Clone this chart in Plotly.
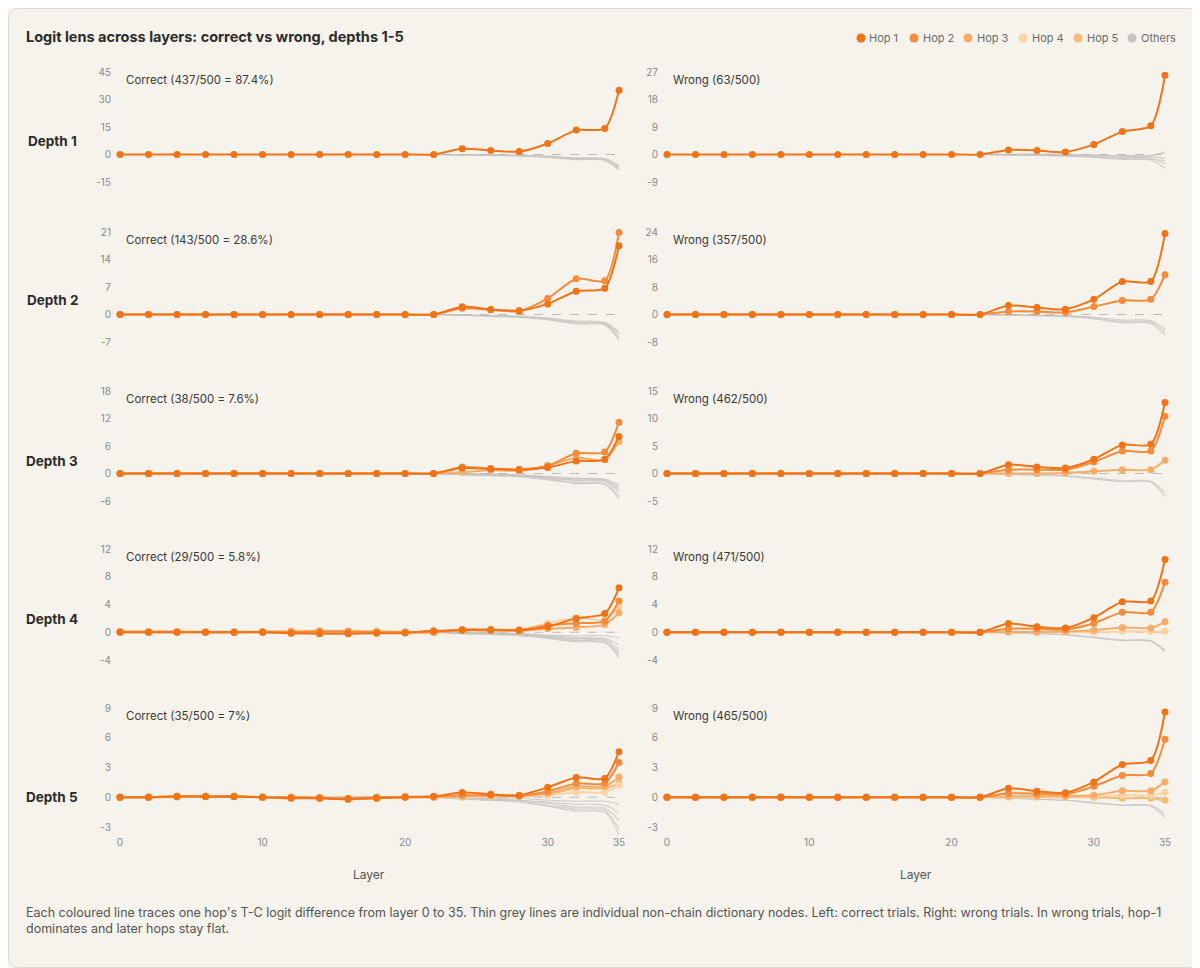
import plotly.graph_objects as go

# The page places the figure 8px from the top-left corner, so the figure is
# sized and positioned to fill the remaining 1192x960 area.
OFF = 8
W, H = 1200 - OFF, 968 - OFF

LAYERS = [0, 2, 4, 6, 8, 10, 12, 14, 16, 18, 20, 22, 24, 26, 28, 30, 32, 34, 35]
X_TICKS = [0, 10, 20, 30, 35]
HOP_NAMES = ["Hop 1", "Hop 2", "Hop 3", "Hop 4", "Hop 5"]
HOP_COLORS = ["#f07318", "#f48c3c", "#f7ac6a", "#fbd3a4", "#f3bc74"]
OTHER_COLOR = "#c6c4c0"

Z = [0] * 12  # layers 0..22

# ---- Depth 1 ----
d1c_hops = [Z + [3.1, 2.2, 1.6, 6.0, 13.3, 14.2, 35.1]]
d1c_others = [
    Z + [-0.2, -0.4, -0.7, -1.4, -2.5, -2.9, -7.8],
    Z + [-0.1, -0.3, -0.5, -1.1, -2.1, -2.5, -6.8],
    Z + [-0.3, -0.5, -0.8, -1.6, -2.8, -3.2, -8.4],
    Z + [-0.1, -0.2, -0.4, -0.9, -1.8, -2.2, -6.0],
]
d1w_hops = [Z + [1.5, 1.3, 0.8, 3.3, 7.5, 9.4, 25.9]]
d1w_others = [
    Z + [-0.1, -0.2, -0.3, -0.6, -1.0, -1.2, -3.0],
    Z + [0.1, 0.1, 0.0, -0.2, -0.4, -0.3, 0.8],
    Z + [-0.2, -0.3, -0.5, -1.0, -1.6, -1.8, -4.6],
    Z + [-0.1, -0.2, -0.4, -0.8, -1.3, -1.5, -2.0],
    Z + [0.0, 0.0, -0.1, -0.3, -0.6, -0.7, -1.2],
]

# ---- Depth 2 ----
d2c_hops = [
    Z + [2.0, 1.3, 1.0, 2.7, 5.9, 6.7, 17.5],
    Z + [1.6, 1.2, 0.85, 4.1, 9.1, 8.6, 20.9],
]
d2c_others = [
    Z + [-0.2, -0.4, -0.6, -1.2, -2.2, -2.5, -5.9],
    Z + [-0.1, -0.3, -0.5, -1.0, -1.9, -2.2, -5.0],
    Z + [-0.2, -0.5, -0.7, -1.4, -2.4, -2.7, -6.4],
    Z + [-0.1, -0.3, -0.4, -0.9, -1.7, -2.0, -4.5],
]
d2w_hops = [
    Z + [2.6, 2.0, 1.5, 4.4, 9.6, 9.6, 23.6],
    Z + [0.9, 0.9, 0.6, 2.3, 4.1, 4.4, 11.6],
]
d2w_others = [
    Z + [-0.1, -0.3, -0.5, -1.0, -2.0, -2.2, -5.0],
    Z + [-0.2, -0.4, -0.6, -1.3, -2.4, -2.6, -6.0],
    Z + [-0.1, -0.2, -0.4, -0.8, -1.6, -1.8, -4.2],
]

# ---- Depth 3 ----
d3c_hops = [
    Z + [1.2, 1.0, 0.8, 1.3, 2.7, 3.1, 8.1],
    Z + [1.4, 1.1, 0.9, 1.7, 4.4, 4.7, 11.2],
    Z + [0.3, 0.7, 0.6, 1.7, 3.4, 3.0, 7.0],
]
d3c_others = [
    Z + [-0.2, -0.3, -0.5, -1.0, -1.6, -1.8, -4.0],
    Z + [-0.1, -0.2, -0.4, -0.8, -1.2, -1.4, -3.0],
    Z + [-0.2, -0.4, -0.6, -1.2, -2.0, -2.2, -5.0],
    Z + [-0.3, -0.5, -0.7, -1.4, -2.2, -2.4, -5.5],
    Z + [-0.1, -0.3, -0.5, -0.9, -1.4, -1.6, -3.5],
    Z + [0.0, -0.1, -0.3, -0.6, -1.0, -1.2, -2.5],
]
d3w_hops = [
    Z + [1.6, 1.2, 1.0, 2.6, 5.2, 5.3, 12.9],
    Z + [0.7, 0.7, 0.7, 2.1, 4.1, 4.1, 10.4],
    Z + [0.0, 0.0, 0.1, 0.4, 0.7, 0.7, 2.4],
]
d3w_others = [
    Z + [-0.1, -0.2, -0.4, -0.8, -1.3, -1.4, -3.5],
    Z + [-0.2, -0.3, -0.5, -1.0, -1.5, -1.6, -4.2],
]

# ---- Depth 4 ----
d4c_hops = [
    [0, 0, 0, 0, 0, 0, -0.15, -0.2, -0.2, -0.15, -0.1, 0.2] + [0.3, 0.3, 0.3, 0.8, 2.0, 2.7, 6.4],
    [0, 0, 0, 0, 0, 0, 0, 0.1, 0.1, 0, 0, 0] + [0.4, 0.4, 0.3, 1.0, 1.3, 1.6, 4.5],
    [0.1, 0.1, 0.1, 0, 0, 0.1, 0.1, 0.2, 0.1, 0.1, 0, 0] + [0.3, 0.3, 0.2, 0.5, 0.7, 1.1, 2.8],
    [0.1, 0.1, 0.1, 0.1, 0.1, 0.1, 0.2, 0.2, 0.2, 0.2, 0.1, 0.1] + [0.4, 0.4, 0.4, 1.3, 2.1, 1.8, 3.7],
]
d4c_others = [
    Z + [-0.1, -0.2, -0.3, -0.6, -0.9, -1.0, -2.5],
    Z + [-0.1, -0.1, -0.2, -0.4, -0.5, -0.5, -0.8],
    Z + [-0.2, -0.3, -0.4, -0.8, -1.2, -1.4, -3.7],
    Z + [0.0, -0.1, -0.2, -0.5, -0.8, -0.9, -1.8],
    Z + [-0.1, -0.2, -0.4, -0.7, -1.1, -1.2, -3.0],
    Z + [-0.2, -0.3, -0.5, -0.9, -1.4, -1.5, -3.3],
]
d4w_hops = [
    Z + [1.25, 0.8, 0.6, 2.1, 4.4, 4.5, 10.5],
    Z + [0.5, 0.5, 0.4, 1.3, 2.9, 2.9, 7.2],
    Z + [0.05, 0.05, 0.1, 0.3, 0.7, 0.6, 1.5],
    Z + [0.0, 0.0, 0.0, 0.0, 0.1, 0.1, 0.15],
]
d4w_others = [
    Z + [-0.1, -0.2, -0.4, -0.8, -1.2, -1.3, -2.8],
    Z + [-0.1, -0.2, -0.3, -0.7, -1.1, -1.2, -2.6],
]

# ---- Depth 5 ----
d5c_hops = [
    [0, 0, 0.1, 0.05, 0.05, 0, -0.1, -0.1, -0.2, -0.1, 0, 0.1] + [0.47, 0.3, 0.2, 1.0, 2.0, 1.9, 4.6],
    [0, 0, 0.05, 0.1, 0.1, 0, 0, -0.05, -0.1, 0, 0.05, 0.05] + [0.2, 0.2, 0.15, 0.6, 1.4, 1.4, 3.5],
    [0, 0, 0.1, 0.1, 0.1, 0, 0, -0.05, -0.2, -0.1, 0, 0] + [0.1, 0.2, 0.1, 0.4, 1.1, 1.1, 2.05],
    [0, 0, 0, 0.05, 0.1, 0.05, 0, 0, -0.1, 0, 0, 0] + [0.0, 0.1, 0.1, 0.2, 0.5, 0.5, 1.2],
    [0, 0, 0.05, 0.1, 0.05, 0, 0, -0.1, -0.15, -0.05, 0, 0] + [0.0, 0.1, 0.1, 0.3, 0.9, 0.9, 1.4],
]
d5c_others = [
    Z + [-0.1, -0.2, -0.3, -0.6, -1.0, -1.1, -2.3],
    Z + [0.0, -0.1, -0.1, -0.3, -0.4, -0.4, -0.7],
    Z + [-0.1, -0.3, -0.4, -0.8, -1.2, -1.3, -3.2],
    Z + [-0.1, -0.2, -0.3, -0.5, -0.7, -0.8, -1.6],
    Z + [-0.2, -0.3, -0.5, -0.9, -1.4, -1.5, -3.8],
]
d5w_hops = [
    Z + [0.9, 0.6, 0.45, 1.55, 3.3, 3.7, 8.6],
    Z + [0.4, 0.35, 0.3, 1.1, 2.2, 2.4, 5.85],
    Z + [0.1, 0.1, 0.1, 0.2, 0.65, 0.65, 1.55],
    Z + [0.0, 0.0, 0.0, 0.1, 0.2, 0.2, 0.5],
    Z + [0.0, 0.0, 0.0, 0.0, -0.1, -0.1, -0.3],
]
d5w_others = [
    Z + [-0.1, -0.2, -0.3, -0.6, -0.8, -0.9, -2.0],
    Z + [-0.1, -0.2, -0.3, -0.5, -0.8, -0.8, -1.7],
]

PANEL_TITLES = [
    ["Correct (437/500 = 87.4%)", "Wrong (63/500)"],
    ["Correct (143/500 = 28.6%)", "Wrong (357/500)"],
    ["Correct (38/500 = 7.6%)", "Wrong (462/500)"],
    ["Correct (29/500 = 5.8%)", "Wrong (471/500)"],
    ["Correct (35/500 = 7%)", "Wrong (465/500)"],
]
ROW_LABELS = ["Depth 1", "Depth 2", "Depth 3", "Depth 4", "Depth 5"]
Y_TICKS = [
    [[-15, 0, 15, 30, 45], [-9, 0, 9, 18, 27]],
    [[-7, 0, 7, 14, 21], [-8, 0, 8, 16, 24]],
    [[-6, 0, 6, 12, 18], [-5, 0, 5, 10, 15]],
    [[-4, 0, 4, 8, 12], [-4, 0, 4, 8, 12]],
    [[-3, 0, 3, 6, 9], [-3, 0, 3, 6, 9]],
]
PANELS = [
    [(d1c_hops, d1c_others), (d1w_hops, d1w_others)],
    [(d2c_hops, d2c_others), (d2w_hops, d2w_others)],
    [(d3c_hops, d3c_others), (d3w_hops, d3w_others)],
    [(d4c_hops, d4c_others), (d4w_hops, d4w_others)],
    [(d5c_hops, d5c_others), (d5w_hops, d5w_others)],
]

# ---- layout geometry (screen pixels) ----
ROW_TICK_PX = [(72, 182), (232, 342), (391, 501), (549, 660), (708, 827)]
COL_X_PX = [(120, 619), (667, 1165)]
ROW_LABEL_Y = [141, 300, 461, 619, 797]
PAD_T, PAD_B = 8, 8

FONT = "Inter, Roboto, sans-serif"
BG = "#f6f3ec"


def px(x):
    return (x - OFF) / W


def py(y):
    return 1 - (y - OFF) / H


fig = go.Figure()
layout = {}
annotations = []

for r in range(5):
    top_px, bot_px = ROW_TICK_PX[r]
    for c in range(2):
        k = r * 2 + 1 + c
        xa = "xaxis" if k == 1 else f"xaxis{k}"
        ya = "yaxis" if k == 1 else f"yaxis{k}"
        xr = "x" if k == 1 else f"x{k}"
        yr = "y" if k == 1 else f"y{k}"
        ticks = Y_TICKS[r][c]
        tmin, tmax = ticks[0], ticks[-1]
        scale = (bot_px - top_px) / (tmax - tmin)
        yrange = [tmin - PAD_B / scale, tmax + PAD_T / scale]
        x0, x1 = COL_X_PX[c]
        layout[xa] = dict(
            domain=[px(x0), px(x1)], range=[0, 35], anchor=yr, automargin=False,
            showgrid=False, zeroline=False, showline=False,
            tickvals=X_TICKS, showticklabels=(r == 4),
            tickfont=dict(size=10, color="#8a8a8a", family=FONT),
            ticks="", fixedrange=True,
        )
        layout[ya] = dict(
            domain=[py(bot_px + PAD_B), py(top_px - PAD_T)], range=yrange,
            anchor=xr, automargin=False, showgrid=False, zeroline=False, showline=False,
            tickvals=ticks, ticktext=[str(t) for t in ticks], ticks="", ticklabelstandoff=8,
            tickfont=dict(size=10, color="#8a8a8a", family=FONT),
            fixedrange=True,
        )
        hops, others = PANELS[r][c]
        for g in others:
            fig.add_trace(go.Scatter(
                x=LAYERS, y=g, mode="lines", xaxis=xr, yaxis=yr,
                line=dict(color=OTHER_COLOR, width=1.1, shape="spline", smoothing=0.8),
                opacity=0.8, showlegend=False, hoverinfo="skip",
            ))
        fig.add_trace(go.Scatter(
            x=[0, 35], y=[0, 0], mode="lines", xaxis=xr, yaxis=yr,
            line=dict(color="#bdbab4", width=1, dash="dash"),
            showlegend=False, hoverinfo="skip",
        ))
        for h in range(len(hops) - 1, -1, -1):
            fig.add_trace(go.Scatter(
                x=LAYERS, y=hops[h], mode="lines+markers", xaxis=xr, yaxis=yr,
                name=HOP_NAMES[h],
                line=dict(color=HOP_COLORS[h], width=2, shape="spline", smoothing=0.7),
                marker=dict(color=HOP_COLORS[h], size=7),
                cliponaxis=False, showlegend=False,
            ))
        annotations.append(dict(
            x=px(x0 + 4), y=py(top_px + 8), xref="paper", yref="paper",
            text=PANEL_TITLES[r][c], showarrow=False, xanchor="left", yanchor="middle",
            font=dict(size=11.5, color="#3a3a3a", family=FONT),
        ))
    annotations.append(dict(
        x=px(52), y=py(ROW_LABEL_Y[r]), xref="paper", yref="paper",
        text=f"<b>{ROW_LABELS[r]}</b>", showarrow=False, xanchor="center", yanchor="middle",
        font=dict(size=13.5, color="#2b2b2b", family=FONT),
    ))

# x-axis titles
for cx in (369, 916):
    annotations.append(dict(
        x=px(cx), y=py(874), xref="paper", yref="paper", text="Layer", showarrow=False,
        xanchor="center", yanchor="middle", font=dict(size=12, color="#555555", family=FONT),
    ))

# title
annotations.append(dict(
    x=px(24), y=py(37), xref="paper", yref="paper",
    text="<b>Logit lens across layers: correct vs wrong, depths 1-5</b>",
    showarrow=False, xanchor="left", yanchor="middle",
    font=dict(size=14.5, color="#2b2b2b", family=FONT),
))

# caption
annotations.append(dict(
    x=px(24), y=py(903), xref="paper", yref="paper",
    text=("Each coloured line traces one hop's T-C logit difference from layer 0 to 35. "
          "Thin grey lines are individual non-chain dictionary nodes. Left: correct trials. "
          "Right: wrong trials. In wrong trials, hop-1<br>dominates and later hops stay flat."),
    showarrow=False, xanchor="left", yanchor="top", align="left",
    font=dict(size=12.5, color="#555555", family=FONT),
))

# legend (top right)
LEG_NAMES = HOP_NAMES + ["Others"]
LEG_COLORS = HOP_COLORS + [OTHER_COLOR]
LEG_X = [861, 914, 968, 1023, 1078, 1132]
shapes = []
for name, col, lx in zip(LEG_NAMES, LEG_COLORS, LEG_X):
    shapes.append(dict(
        type="circle", xref="paper", yref="paper",
        x0=px(lx - 4.5), x1=px(lx + 4.5), y0=py(38 + 4.5), y1=py(38 - 4.5),
        fillcolor=col, line=dict(width=0),
    ))
    annotations.append(dict(
        x=px(lx + 6.5), y=py(38), xref="paper", yref="paper", text=name, showarrow=False,
        xanchor="left", yanchor="middle", font=dict(size=11, color="#6b6b6b", family=FONT),
    ))

# card border (rounded), drawn at the figure edges
L, T, R, B, rad = OFF + 0.5, OFF + 0.5, 1199.5, 967.5, 10
path = (f"M {px(L+rad)},{py(T)} L {px(R-rad)},{py(T)} Q {px(R)},{py(T)} {px(R)},{py(T+rad)} "
        f"L {px(R)},{py(B-rad)} Q {px(R)},{py(B)} {px(R-rad)},{py(B)} "
        f"L {px(L+rad)},{py(B)} Q {px(L)},{py(B)} {px(L)},{py(B-rad)} "
        f"L {px(L)},{py(T+rad)} Q {px(L)},{py(T)} {px(L+rad)},{py(T)} Z")
shapes.append(dict(type="path", xref="paper", yref="paper", path=path,
                   line=dict(color="#dedad2", width=1), fillcolor="rgba(0,0,0,0)", layer="below"))

fig.update_layout(
    width=W, height=H, margin=dict(l=0, r=0, t=0, b=0, pad=0, autoexpand=False),
    paper_bgcolor=BG, plot_bgcolor=BG, showlegend=False,
    annotations=annotations, shapes=shapes,
    font=dict(family=FONT),
    **layout,
)

fig.write_html("out.html")
